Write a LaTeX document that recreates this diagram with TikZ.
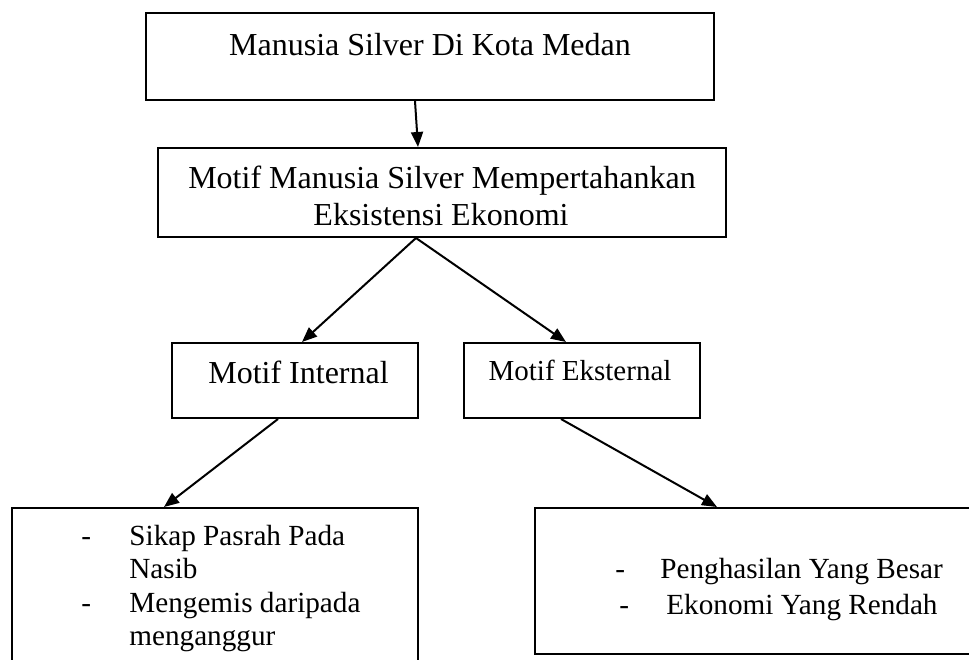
\documentclass[tikz,border=0pt]{standalone}
\usepackage{fontspec}
\setmainfont{Liberation Serif}
\usetikzlibrary{arrows.meta}
\begin{document}
\begin{tikzpicture}[x=0.5pt,y=-0.5pt,
  box/.style={draw, line width=1pt, inner sep=0pt},
  txt/.style={inner sep=0pt, anchor=base, font=\fontsize{16pt}{19pt}\selectfont},
  stxt/.style={inner sep=0pt, anchor=base, font=\fontsize{14.5pt}{17pt}\selectfont},
  btxt/.style={inner sep=0pt, anchor=base west, font=\fontsize{14.6pt}{17pt}\selectfont},
  arr/.style={-{Triangle[length=7.5pt,width=6pt]}, line width=1pt}]
\useasboundingbox (0,0) rectangle (969,659);
\clip (0,0) rectangle (969,659);
% boxes
\node[box, minimum width=284pt, minimum height=43.5pt] (b1) at (430,56.5) {};
\node[box, minimum width=284pt, minimum height=44.5pt] (b2) at (442,192.5) {};
\node[box, minimum width=123pt, minimum height=37.5pt] (bi) at (295,380.5) {};
\node[box, minimum width=118pt, minimum height=37.5pt] (be) at (582,380.5) {};
\node[box, minimum width=203pt, minimum height=96pt] (bl) at (215,604) {};
\node[box, minimum width=232.5pt, minimum height=73pt] (br) at (767.5,581) {};
% texts
\node[txt] (t1) at (430,55) {Manusia Silver Di Kota Medan};
\node[txt] (t2a) at (442,188) {Motif Manusia Silver Mempertahankan};
\node[txt] (t2b) at (441,225) {Eksistensi Ekonomi};
\node[txt] (ti) at (298.5,383) {Motif Internal};
\node[stxt] (te) at (580,380) {Motif Eksternal};
\node[btxt] (d1) at (81,545) {-};
\node[btxt] (l1) at (129,545) {Sikap Pasrah Pada};
\node[btxt] (l2) at (129,578) {Nasib};
\node[btxt] (d2) at (81,612) {-};
\node[btxt] (l3) at (129,612) {Mengemis daripada};
\node[btxt] (l4) at (129,645) {menganggur};
\node[btxt] (d3) at (615,578) {-};
\node[btxt] (r1) at (660,578) {Penghasilan Yang Besar};
\node[btxt] (d4) at (619,614) {-};
\node[btxt] (r2) at (666,614) {Ekonomi Yang Rendah};
% arrows
\draw[arr] ([xshift=-7.5pt]b1.south) -- ([xshift=-12pt]b2.north);
\draw[arr] ([xshift=-13pt]b2.south) -- ([xshift=3.5pt]bi.north);
\draw[arr] ([xshift=-13pt]b2.south) -- ([xshift=-8pt]be.north);
\draw[arr] ([xshift=-8.5pt]bi.south) -- ([xshift=-25.5pt]bl.north);
\draw[arr] ([xshift=-10.5pt]be.south) -- ([xshift=-25.25pt]br.north);
\end{tikzpicture}
\end{document}
